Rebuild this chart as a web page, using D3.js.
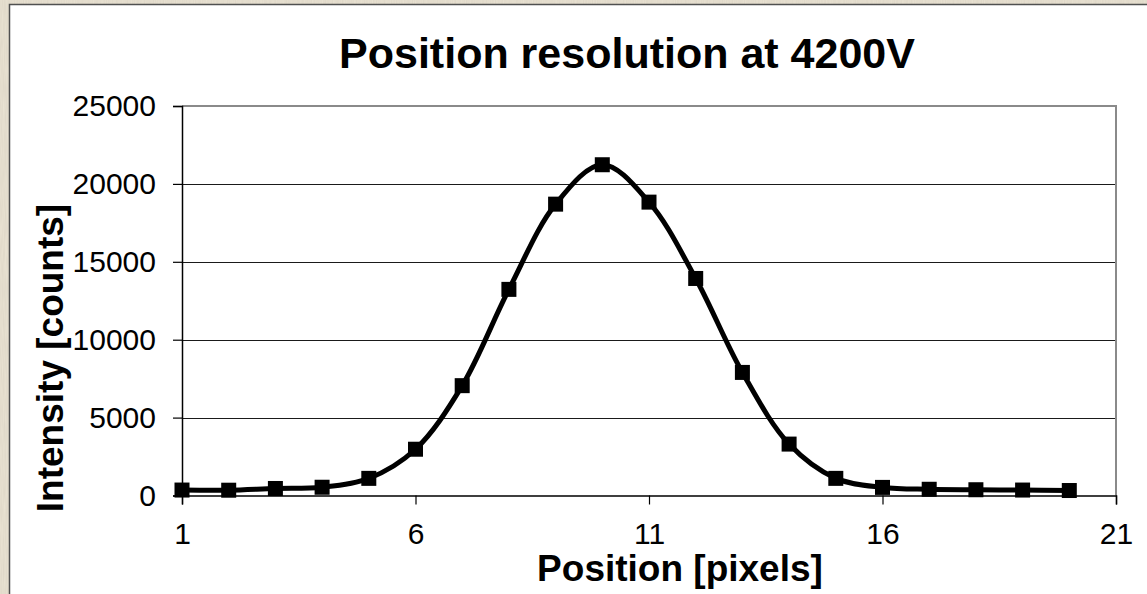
<!DOCTYPE html>
<html>
<head>
<meta charset="utf-8">
<script src="https://cdn.jsdelivr.net/npm/d3@7"></script>
<style>
  html, body { margin: 0; padding: 0; background: #e8e0cf; }
  svg { display: block; }
  text { font-family: Arial, "Liberation Sans", sans-serif; fill: #000; }
</style>
</head>
<body>
<svg id="chart" width="1147" height="594"></svg>
<script>
// ---- data ----
const positions = [1, 2, 3, 4, 5, 6, 7, 8, 9, 10, 11, 12, 13, 14, 15, 16, 17, 18, 19, 20];
const intensity = [350, 340, 450, 530, 1100, 2970, 7050, 13230, 18700, 21230, 18830, 13930, 7900, 3300, 1100, 520, 400, 370, 350, 320];
const xTicks = [1, 6, 11, 16, 21];
const yTicks = [0, 5000, 10000, 15000, 20000, 25000];
const titleText = "Position resolution at 4200V";
const xTitle = "Position [pixels]";
const yTitle = "Intensity [counts]";

const svg = d3.select("#chart");

// background texture
const defs = svg.append("defs");
const f = defs.append("filter").attr("id", "paper").attr("x", 0).attr("y", 0).attr("width", "100%").attr("height", "100%");
f.append("feTurbulence").attr("type", "fractalNoise").attr("baseFrequency", "0.9 0.05").attr("numOctaves", 2).attr("seed", 3).attr("result", "n");
f.append("feColorMatrix").attr("in", "n").attr("type", "matrix")
  .attr("values", "0 0 0 0 0.55  0 0 0 0 0.5  0 0 0 0 0.42  0 0 0 0.35 0");
svg.append("rect").attr("width", 1147).attr("height", 594).attr("fill", "#ebe4d4");
svg.append("rect").attr("width", 1147).attr("height", 594).attr("filter", "url(#paper)");

// chart area
svg.append("rect")
  .attr("x", 9.5).attr("y", 4.5).attr("width", 1200).attr("height", 700)
  .attr("fill", "#fff").attr("stroke", "#505050").attr("stroke-width", 1.5);

const pLeft = 182, pRight = 1116, pTop = 106, pBottom = 495.5;
const x = d3.scaleLinear().domain([1, 21]).range([pLeft, pRight]);
const y = d3.scaleLinear().domain([0, 25000]).range([pBottom, pTop]);

// gridlines
svg.append("g").selectAll("line").data(yTicks.filter(d => d > 0 && d < 25000)).join("line")
  .attr("x1", pLeft).attr("x2", pRight)
  .attr("y1", d => Math.round(y(d)) + 0.5).attr("y2", d => Math.round(y(d)) + 0.5)
  .attr("stroke", "#1a1a1a").attr("stroke-width", 1.2);

// plot border top/right (gray)
svg.append("path")
  .attr("d", `M${pLeft},${pTop}H${pRight}V${pBottom}`)
  .attr("fill", "none").attr("stroke", "#8a8a8a").attr("stroke-width", 2);

// y axis
const yAxis = svg.append("g").attr("transform", `translate(${pLeft},0)`)
  .call(d3.axisLeft(y).tickValues(yTicks).tickSize(9).tickPadding(17).tickFormat(d3.format("d")));
yAxis.select(".domain").attr("stroke", "#000").attr("stroke-width", 1.5);
yAxis.selectAll(".tick line").attr("stroke", "#000").attr("stroke-width", 1.2);
yAxis.selectAll(".tick text").attr("font-size", 30).attr("font-family", "Arial, 'Liberation Sans', sans-serif");

// x axis
const xAxis = svg.append("g").attr("transform", `translate(0,${pBottom})`)
  .call(d3.axisBottom(x).tickValues(xTicks).tickSize(9).tickPadding(18).tickFormat(d3.format("d")));
xAxis.select(".domain").attr("stroke", "#000").attr("stroke-width", 1.5);
xAxis.selectAll(".tick line").attr("stroke", "#000").attr("stroke-width", 1.2);
xAxis.selectAll(".tick text").attr("font-size", 30).attr("font-family", "Arial, 'Liberation Sans', sans-serif");

// line
const pts = positions.map((p, i) => [p, intensity[i]]);
svg.append("path").datum(pts)
  .attr("fill", "none").attr("stroke", "#000").attr("stroke-width", 5)
  .attr("stroke-linejoin", "round")
  .attr("d", d3.line().x(d => x(d[0])).y(d => y(d[1])).curve(d3.curveCatmullRom.alpha(0.5)));

// markers
const ms = 15;
svg.append("g").selectAll("rect").data(pts).join("rect")
  .attr("x", d => x(d[0]) - ms / 2).attr("y", d => y(d[1]) - ms / 2)
  .attr("width", ms).attr("height", ms).attr("fill", "#000");

// titles
svg.append("text").attr("x", 627).attr("y", 68).attr("text-anchor", "middle")
  .attr("font-size", 43).attr("font-weight", "bold").text(titleText);
svg.append("text").attr("x", 680).attr("y", 581).attr("text-anchor", "middle")
  .attr("font-size", 37).attr("font-weight", "bold").text(xTitle);
svg.append("text").attr("transform", "translate(63,358) rotate(-90)").attr("text-anchor", "middle")
  .attr("font-size", 37).attr("font-weight", "bold").text(yTitle);
</script>
</body>
</html>
